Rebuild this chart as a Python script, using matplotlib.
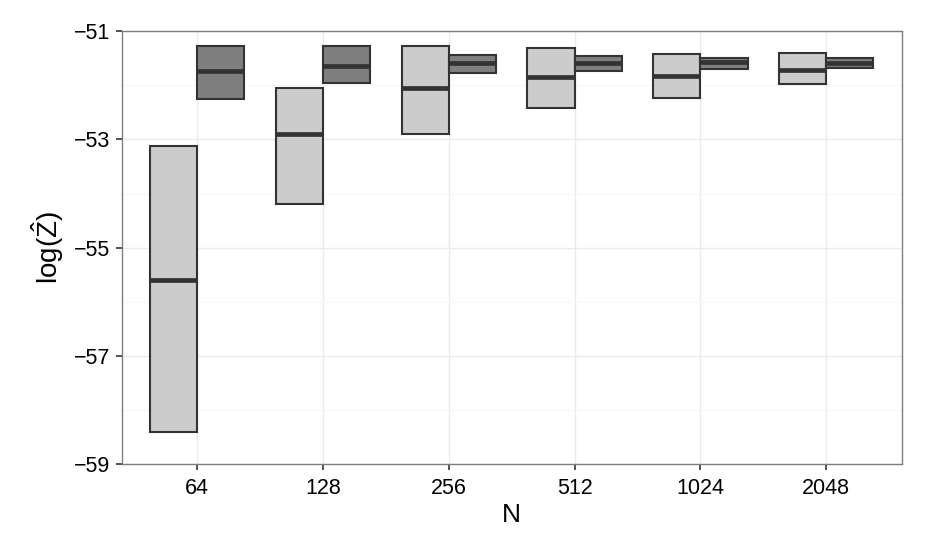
import matplotlib
matplotlib.use("Agg")
import matplotlib.pyplot as plt
import numpy as np

plt.rcParams['font.family'] = ['Liberation Sans', 'DejaVu Sans']
plt.rcParams['mathtext.fontset'] = 'custom'
plt.rcParams['mathtext.rm'] = 'Liberation Sans'
plt.rcParams['mathtext.it'] = 'Liberation Sans'

categories = ["64", "128", "256", "512", "1024", "2048"]

# series A (light grey, left)
a_low = [-58.40, -54.20, -52.90, -52.42, -52.23, -51.98]
a_mid = [-55.59, -52.90, -52.04, -51.84, -51.82, -51.71]
a_high = [-53.12, -52.05, -51.27, -51.31, -51.42, -51.40]

# series B (dark grey, right)
b_low = [-52.26, -51.96, -51.78, -51.73, -51.69, -51.68]
b_mid = [-51.73, -51.65, -51.58, -51.58, -51.57, -51.59]
b_high = [-51.27, -51.28, -51.43, -51.46, -51.49, -51.50]

fig = plt.figure(figsize=(9.34, 5.45), dpi=100)
ax = fig.add_axes([121.7/934, 1 - 464/545, (901.7-121.7)/934, (464-31.3)/545])

x = np.arange(1, len(categories) + 1)
w = 0.375
edge = '#333333'
for xs, lo, mid, hi, fc in [(x - w/2, a_low, a_mid, a_high, '#CCCCCC'),
                            (x + w/2, b_low, b_mid, b_high, '#7F7F7F')]:
    lo = np.array(lo); hi = np.array(hi); mid = np.array(mid)
    ax.bar(xs, hi - lo, bottom=lo, width=w, color=fc, edgecolor=edge,
           linewidth=1.5, zorder=3)
    ax.hlines(mid, xs - w/2, xs + w/2, colors=edge, linewidth=3.4, zorder=4)

ax.set_xlim(0.4, 6.6)
ax.set_ylim(-59, -51)
ax.set_xticks(x)
ax.set_xticklabels(categories)
ax.set_yticks([-59, -57, -55, -53, -51])
ax.set_yticklabels(['\u221259', '\u221257', '\u221255', '\u221253', '\u221251'])
ax.set_yticks([-58, -56, -54, -52], minor=True)

ax.grid(True, which='major', color='#EBEBEB', linewidth=1.0, zorder=0)
ax.grid(True, which='minor', axis='y', color='#F7F7F7', linewidth=1.0, zorder=0)
ax.set_axisbelow(True)

for s in ax.spines.values():
    s.set_color('#7F7F7F')
    s.set_linewidth(1.0)

ax.tick_params(axis='both', which='major', length=4, width=1.2, color='#333333',
               labelsize=15.5, labelcolor='#000000')
ax.tick_params(axis='x', which='major', pad=6)
ax.tick_params(axis='y', which='major', pad=4)
ax.tick_params(axis='y', which='minor', length=0)

ax.set_xlabel('N', fontsize=19, labelpad=3)
ax.set_ylabel(r'$\mathrm{log}(\hat{\mathrm{Z}})$', fontsize=20, labelpad=6)

fig.savefig('out.png', dpi=100)
